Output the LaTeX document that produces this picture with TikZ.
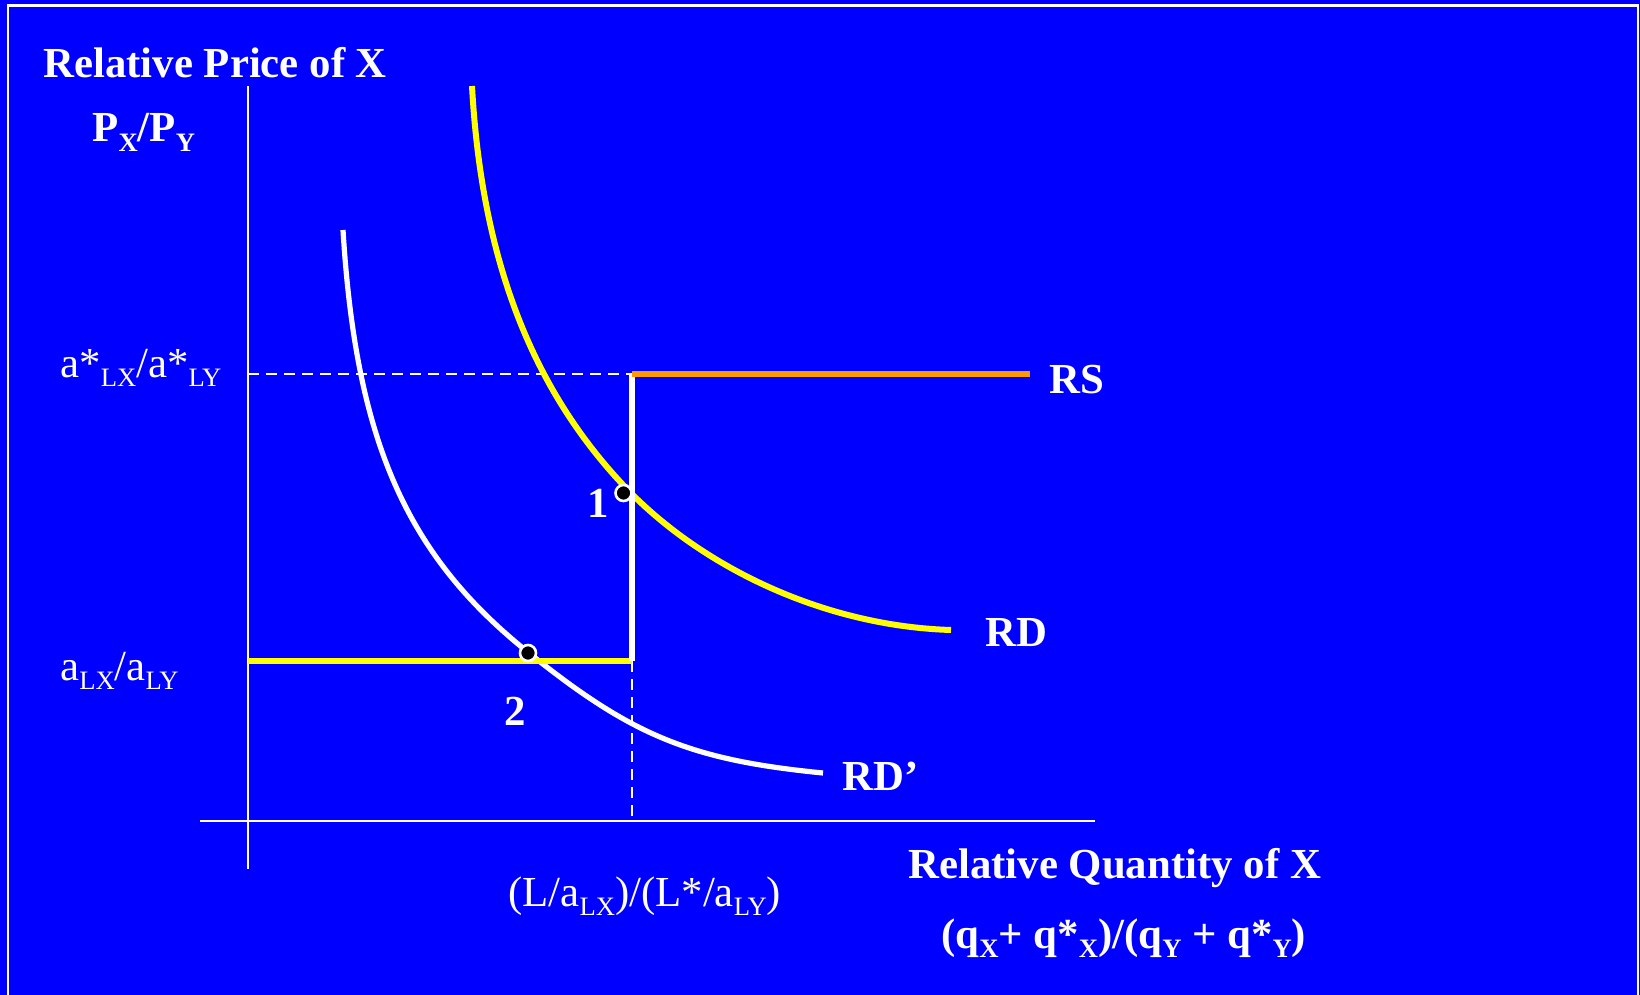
\documentclass[tikz,border=0pt]{standalone}
\usepackage{fontspec}
\setmainfont{Liberation Serif}
\usepackage{tikz}
\definecolor{slideblue}{HTML}{0000FF}
\definecolor{rsorange}{HTML}{FF9900}
\definecolor{rdyellow}{HTML}{FFFF00}
\newcommand{\lsub}[1]{\raisebox{-0.22em}{\fontsize{13.3}{14}\selectfont #1}}

\tikzset{
  axis/.style={white, line width=1.2pt},
  guide/.style={white, line width=1.2pt, dash pattern=on 5.5pt off 3.5pt},
  lbl/.style={text=white, inner sep=0pt, font=\fontsize{21.4}{26}\selectfont},
  blbl/.style={lbl, font=\fontsize{21.4}{26}\selectfont\bfseries},
  dot/.style={circle, fill=black, draw=white, line width=1.3pt,
              inner sep=0pt, minimum size=8pt},
}

\begin{document}
\begin{tikzpicture}[x=0.5pt, y=-0.5pt]
  %% slide background and frame
  \path[fill=slideblue, use as bounding box] (0,0) rectangle (1640,995);
  \draw[white, line width=1.3pt] (8,1010) -- (8,5.5) -- (1638,5.5) -- (1638,1010);

  %% key points
  \coordinate (ytop)   at (248,86);
  \coordinate (ybot)   at (248,869);
  \coordinate (xleft)  at (200,821);
  \coordinate (xright) at (1095,821);
  \coordinate (dashL)  at (248,374);
  \coordinate (kinkT)  at (632,374);
  \coordinate (rsend)  at (1030,374);
  \coordinate (lowL)   at (248,661);
  \coordinate (kinkB)  at (632,661);
  \coordinate (qbar)   at (632,821);

  %% axes and guides
  \draw[axis] (ytop) -- (ybot);
  \draw[axis] (xleft) -- (xright);
  \draw[guide] (dashL) -- (kinkT);
  \draw[guide] (kinkB) -- (qbar);

  %% demand curves
  \draw[white, line width=2.6pt] (343,230)
    .. controls (356,441) and (406,555) .. (529,653)
    .. controls (632.5,736) and (691,760) .. (823,773);
  \draw[rdyellow, line width=3pt] (472,86)
    .. controls (481,250) and (527,385) .. (627,489)
    .. controls (700,565) and (821,626) .. (951,630);

  %% relative supply
  \draw[rdyellow, line width=2.6pt] (lowL) -- (kinkB);
  \draw[white, line width=2.8pt] (kinkB) -- (kinkT);
  \draw[rsorange, line width=2.8pt] (kinkT) -- (rsend);

  %% equilibria
  \node[dot] (eq1) at (623.5,493) {};
  \node[dot] (eq2) at (528,653) {};
  \node[blbl, anchor=base west] (n1) at (587,517) {1};
  \node[blbl, anchor=base west] (n2) at (504,725) {2};

  %% labels
  \node[blbl, anchor=base west] (ytitle) at (43,78) {Relative Price of X};
  \node[blbl, anchor=base west] (yvar) at (92,142) {P\lsub{X}/P\lsub{Y}};
  \node[lbl, anchor=base west] (hiprice) at (60,377) {a*\lsub{LX}/a*\lsub{LY}};
  \node[lbl, anchor=base west] (loprice) at (60,680) {a\lsub{LX}/a\lsub{LY}};
  \node[lbl, anchor=base west] (qlabel) at (508,906)
    {(L/a\lsub{LX})/(L*/a\lsub{LY})};
  \node[blbl, anchor=base west] (xtitle) at (908,878) {Relative Quantity of X};
  \node[blbl, anchor=base west] (xvar) at (941,948)
    {(q\lsub{X}+ q*\lsub{X})/(q\lsub{Y} + q*\lsub{Y})};
  \node[blbl, anchor=base west] (rs) at (1049,393) {RS};
  \node[blbl, anchor=base west] (rd) at (985,646) {RD};
  \node[blbl, anchor=base west] (rdp) at (842,790) {RD’};
\end{tikzpicture}
\end{document}
